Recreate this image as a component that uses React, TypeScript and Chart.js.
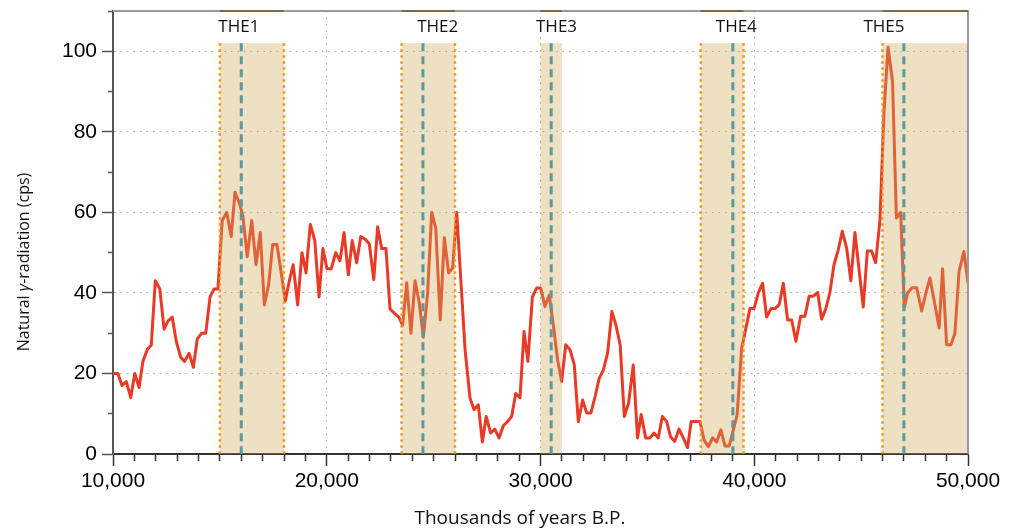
import React, { useEffect, useRef } from 'react';
import { Chart, registerables } from 'chart.js';

Chart.register(...registerables);

// ---- Data ----
const years: number[] = [
  10000, 10230, 10420, 10620, 10830, 11020, 11220, 11400, 11610, 11790, 11980, 12190, 12390, 12570, 12770, 12960,
  13170, 13350, 13560, 13760, 13940, 14150, 14340, 14540, 14730, 14910, 15110, 15320, 15530, 15710, 15930, 16080,
  16280, 16490, 16690, 16890, 17080, 17280, 17470, 17670, 17870, 18060,
  18250, 18430, 18640, 18840, 19030, 19230, 19440, 19640, 19820, 20010, 20210, 20420, 20620, 20810, 21010, 21190,
  21400, 21590, 21790, 21990, 22200, 22380, 22570, 22770, 22960, 23160, 23370, 23550, 23740, 23940, 24130, 24330,
  24520, 24720, 24910, 25100, 25310, 25500, 25700, 25890, 26080,
  26310, 26470, 26700, 26890, 27090, 27280, 27460, 27670, 27860, 28060, 28260, 28450, 28650, 28840, 29040, 29230,
  29410, 29620, 29820, 30010, 30210, 30410, 30600, 30800, 30990, 31180, 31380, 31580, 31770, 31970, 32160, 32360,
  32560, 32750, 32940, 33140, 33340, 33530, 33730, 33920, 34120,
  34340, 34540, 34710, 34920, 35120, 35310, 35510, 35700, 35900, 36090, 36280, 36480, 36680, 36880, 37050, 37260,
  37460, 37650, 37850, 38050, 38240, 38440, 38630, 38830, 39020, 39200, 39410, 39600, 39800, 39990, 40190, 40390,
  40580, 40780, 40970, 41170, 41360, 41560, 41750, 41950,
  42170, 42370, 42570, 42760, 42970, 43150, 43350, 43540, 43730, 43930, 44120, 44320, 44520, 44710, 45100, 45290,
  45490, 45680, 45880, 46070, 46260, 46470, 46650, 46850, 47020, 47170, 47380, 47600, 47830, 48030, 48220, 48450,
  48650, 48810, 49000, 49200, 49390, 49580, 49810, 50000,
];

const gamma: number[] = [
  20, 20, 17, 18, 14, 20, 16.5, 23, 26, 27, 43, 41, 31, 33, 34, 28,
  24, 23, 25, 21.5, 28.5, 30, 30, 39, 41, 41, 58, 60, 54, 65, 62, 59,
  49, 58, 47, 55, 37, 42, 52, 52, 45, 38,
  43, 47, 37, 50, 45, 57, 53, 39, 51, 46, 46, 50, 48, 55, 44.5, 53,
  47.5, 54, 53.4, 52.2, 43.3, 56.4, 51, 51, 36, 35, 34, 32, 42.5, 30, 43, 37.5,
  29, 40, 60, 56, 33.3, 53.7, 45, 46.2, 60,
  40, 26, 14, 11, 12.2, 3, 9.3, 5.2, 6.2, 4, 7, 8, 9.3, 15, 14, 30.4,
  23, 39, 41.2, 41.2, 36.6, 39.5, 32, 23.4, 18, 27.1, 25.9, 22.2, 8, 13.4, 10.2, 10.2,
  14.4, 18.9, 20.8, 25.1, 35.4, 32, 27, 9.3, 12.6,
  22.1, 4, 9.8, 4, 4, 5.2, 4, 9.3, 8.1, 4.2, 3.1, 6.2, 4, 1.6, 8.1, 8.1,
  8.1, 3.5, 1.8, 4, 3, 6, 2, 2, 5.9, 9.8, 26.3, 31, 36.1, 36.1, 40, 42.4,
  34, 36.1, 36.1, 37.1, 42.4, 33.3, 33.3, 28,
  34.2, 34.2, 39.2, 39.2, 40.1, 33.5, 36.1, 40.1, 47, 50.7, 55.3, 51.2, 43, 55, 36.5, 50.4,
  50.4, 47.5, 58, 85, 101, 92.5, 58.6, 60, 36.3, 40, 41.3, 41.3, 35.5, 40, 43.7, 37.1,
  31.3, 46, 27.1, 27.1, 30, 45.3, 50.3, 42.4,
];

// THE event bands
const theLabels: string[] = ['THE1', 'THE2', 'THE3', 'THE4', 'THE5'];
const bandStart: number[] = [15000, 23500, 30000, 37500, 46000];
const bandEnd: number[] = [18000, 26000, 31000, 39500, 50000];
const bandCenter: number[] = [16000, 24500, 30500, 39000, 47000];
const bandEdgeLeft: boolean[] = [true, true, false, true, true];
const bandEdgeRight: boolean[] = [true, true, false, true, false];
const labelX: number[] = [15890, 25190, 30750, 39160, 46070];
const bandTop = 102;
const labelY = 106;

// Tick labels
const xMajorTicks: number[] = [10000, 20000, 30000, 40000, 50000];
const yMajorTicks: number[] = [0, 20, 40, 60, 80, 100];
const xGridValues: number[] = [20000, 30000, 40000];
const yGridValues: number[] = [20, 40, 60, 80, 100];

const xTitle = 'Thousands of years B.P.';
const yTitleParts: string[] = ['Natural ', 'γ', '-radiation (cps)'];

const TICK_FONT = '"Liberation Sans", Arial, sans-serif';
const TITLE_FONT = '"Open Sans", sans-serif';

const bandsPlugin = {
  id: 'bands',
  afterDatasetsDraw(chart: any) {
    const { ctx, chartArea, scales } = chart;
    const x = scales.x;
    const y = scales.y;
    const y0 = y.getPixelForValue(0);
    const yt = y.getPixelForValue(bandTop);
    ctx.save();
    for (let i = 0; i < theLabels.length; i++) {
      const xs = x.getPixelForValue(bandStart[i]);
      const xe = x.getPixelForValue(bandEnd[i]);
      ctx.fillStyle = 'rgba(205,170,90,0.36)';
      ctx.fillRect(xs, yt, xe - xs, y0 - yt);
      // edges
      ctx.strokeStyle = '#f39612';
      ctx.lineWidth = 2.5;
      ctx.setLineDash([2.5, 3.5]);
      if (bandEdgeLeft[i]) {
        ctx.beginPath();
        ctx.moveTo(xs, yt);
        ctx.lineTo(xs, y0);
        ctx.stroke();
      }
      if (bandEdgeRight[i]) {
        ctx.beginPath();
        ctx.moveTo(xe, yt);
        ctx.lineTo(xe, y0);
        ctx.stroke();
      }
      // center dashed line
      const xc = x.getPixelForValue(bandCenter[i]);
      ctx.strokeStyle = '#5e979c';
      ctx.lineWidth = 3;
      ctx.setLineDash([8, 5]);
      ctx.beginPath();
      ctx.moveTo(xc, yt);
      ctx.lineTo(xc, y0);
      ctx.stroke();
    }
    ctx.setLineDash([]);
    // frame (top & right)
    ctx.strokeStyle = '#9a9a9a';
    ctx.lineWidth = 2;
    ctx.beginPath();
    ctx.moveTo(chartArea.left, chartArea.top);
    ctx.lineTo(chartArea.right, chartArea.top);
    ctx.lineTo(chartArea.right, chartArea.bottom);
    ctx.stroke();
    // dark segments on top frame above bands
    ctx.strokeStyle = '#6e5c2a';
    ctx.lineWidth = 1.5;
    for (let i = 0; i < theLabels.length; i++) {
      const xs = x.getPixelForValue(bandStart[i]);
      const xe = x.getPixelForValue(bandEnd[i]);
      ctx.beginPath();
      ctx.moveTo(xs, chartArea.top);
      ctx.lineTo(xe, chartArea.top);
      ctx.stroke();
    }
    // labels
    ctx.fillStyle = '#111';
    ctx.font = '17px ' + TITLE_FONT;
    ctx.textAlign = 'center';
    ctx.textBaseline = 'middle';
    for (let i = 0; i < theLabels.length; i++) {
      ctx.fillText(theLabels[i], x.getPixelForValue(labelX[i]), y.getPixelForValue(labelY));
    }
    ctx.restore();
  },
  afterDraw(chart: any) {
    const { ctx } = chart;
    ctx.save();
    ctx.fillStyle = '#111';
    // x title
    ctx.font = '19px ' + TITLE_FONT;
    ctx.textAlign = 'center';
    ctx.textBaseline = 'middle';
    ctx.fillText(xTitle, 520, 519);
    // y title (rotated, with italic gamma)
    const fonts = ['16px ' + TITLE_FONT, 'italic 16px ' + TITLE_FONT, '16px ' + TITLE_FONT];
    const widths = yTitleParts.map((t, i) => {
      ctx.font = fonts[i];
      return ctx.measureText(t).width;
    });
    const total = widths.reduce((a, b) => a + b, 0);
    ctx.translate(24, 262);
    ctx.rotate(-Math.PI / 2);
    ctx.textAlign = 'left';
    let cx = -total / 2;
    for (let i = 0; i < yTitleParts.length; i++) {
      ctx.font = fonts[i];
      ctx.fillText(yTitleParts[i], cx, 0);
      cx += widths[i];
    }
    ctx.restore();
  },
};

export default function App() {
  const ref = useRef<HTMLCanvasElement>(null);
  useEffect(() => {
    if (!ref.current) return;
    const chart = new Chart(ref.current, {
      type: 'line',
      data: {
        datasets: [
          {
            data: years.map((x, i) => ({ x, y: gamma[i] })),
            borderColor: '#e93a27',
            borderWidth: 3,
            pointRadius: 0,
            tension: 0,
            fill: false,
            borderJoinStyle: 'round',
          },
        ],
      },
      options: {
        responsive: false,
        animation: false,
        devicePixelRatio: 1,
        layout: { padding: { left: 0, right: 44, top: 11, bottom: 0 } },
        plugins: { legend: { display: false }, tooltip: { enabled: false }, title: { display: false } },
        scales: {
          x: {
            type: 'linear',
            min: 10000,
            max: 50000,
            afterFit: (s: any) => {
              s.height = 77;
              s.paddingLeft = 0;
              s.paddingRight = 0;
            },
            ticks: {
              stepSize: 1000,
              maxTicksLimit: 100,
              autoSkip: false,
              maxRotation: 0,
              minRotation: 0,
              padding: 3,
              color: '#000',
              font: { family: TICK_FONT, size: 21 },
              callback: (v: any) => (xMajorTicks.includes(Number(v)) ? Number(v).toLocaleString('en-US') : ''),
            },
            grid: {
              color: (c: any) => (c.tick && xGridValues.includes(c.tick.value) ? '#a8a8a8' : 'transparent'),
              lineWidth: 1,
              tickLength: 12,
              tickColor: '#333',
              tickWidth: 1.5,
              tickBorderDash: (c: any) => (c.tick && xMajorTicks.includes(c.tick.value) ? [] : [6, 100]),
            },
            border: { color: '#333', width: 2, dash: [1.5, 5] },
          },
          y: {
            min: 0,
            max: 110,
            afterFit: (s: any) => {
              s.width = 113;
              s.paddingTop = 0;
              s.paddingBottom = 0;
            },
            ticks: {
              stepSize: 10,
              maxTicksLimit: 100,
              autoSkip: false,
              padding: 5,
              color: '#000',
              font: { family: TICK_FONT, size: 21 },
              callback: (v: any) => (yMajorTicks.includes(Number(v)) ? String(v) : ''),
            },
            grid: {
              color: (c: any) => (c.tick && yGridValues.includes(c.tick.value) ? '#a8a8a8' : 'transparent'),
              lineWidth: 1,
              tickLength: 11,
              tickColor: '#555',
              tickWidth: 1.5,
              tickBorderDash: (c: any) => (c.tick && yMajorTicks.includes(c.tick.value) ? [] : [5, 6]),
              tickBorderDashOffset: (c: any) => (c.tick && yMajorTicks.includes(c.tick.value) ? 0 : 5),
            },
            border: { color: '#555', width: 2, dash: [1.5, 5] },
          },
        },
      },
      plugins: [bandsPlugin],
    } as any);
    return () => chart.destroy();
  }, []);
  return (
    <div style={{ position: 'absolute', left: 0, top: 0, width: 1012, height: 531, background: '#fff' }}>
      <canvas ref={ref} width={1012} height={531} style={{ display: 'block' }} />
    </div>
  );
}
